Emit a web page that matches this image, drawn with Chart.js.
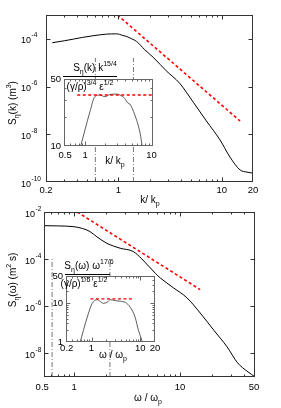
<!DOCTYPE html>
<html>
<head>
<meta charset="utf-8">
<script src="https://cdn.jsdelivr.net/npm/chart.js@4.4.1/dist/chart.umd.min.js"></script>
<style>
  html, body { margin: 0; padding: 0; background: #fff; }
  body { position: relative; width: 281px; height: 408px; overflow: hidden; font-family: "Liberation Sans", Arial, Helvetica, sans-serif; color: #000; }
  canvas { position: absolute; }
  .lbl { position: absolute; white-space: nowrap; font-size: 10px; line-height: 10px; transform: translate(-50%, -50%); }
  .rot { transform: translate(-50%, -50%) rotate(-90deg); }
  .lbl sub, .lbl sup { font-size: 7px; line-height: 0; position: relative; vertical-align: baseline; }
  .lbl sub { top: 3px; }
  .lbl sup { top: -5px; }
  .frac { position: absolute; height: 0; border-top: 1px solid #000; }
</style>
</head>
<body>
<canvas id="kMain" width="281" height="204" style="left:0;top:0"></canvas>
<canvas id="wMain" width="281" height="204" style="left:0;top:204px"></canvas>
<canvas id="kInset" width="125" height="100" style="left:40px;top:70px"></canvas>
<canvas id="wInset" width="125" height="100" style="left:40px;top:266px"></canvas>

<div class="lbl rot" style="left:13px;top:103px">S<sub>η</sub>(k) (m<sup>3</sup>)</div>
<div class="lbl" style="left:150px;top:200px">k/ k<sub>p</sub></div>
<div class="lbl" style="left:95px;top:68px">S<sub>η</sub>(k) k<sup>15/4</sup></div>
<div class="frac" style="left:63px;top:76px;width:54px"></div>
<div class="lbl" style="left:90px;top:87px">(γ/ρ)<sup>3/4</sup> ε<sup>1/2</sup></div>
<div class="lbl" style="left:115px;top:161px">k/ k<sub>p</sub></div>

<div class="lbl rot" style="left:13px;top:280px">S<sub>η</sub>(ω) (m<sup>2</sup> s)</div>
<div class="lbl" style="left:148px;top:398px">ω / ω<sub>p</sub></div>
<div class="lbl" style="left:89px;top:266px">S<sub>η</sub>(ω) ω<sup>17/6</sup></div>
<div class="frac" style="left:65px;top:274px;width:45px"></div>
<div class="lbl" style="left:84px;top:284px">(γ/ρ)<sup>1/6</sup> ε<sup>1/2</sup></div>
<div class="lbl" style="left:113px;top:355px">ω / ω<sub>p</sub></div>

<script>
// ---- top panel: wavenumber spectrum S(k) vs k/kp
const kAxis = [0.23, 0.3, 0.37, 0.45, 0.57, 0.77, 0.96, 1.1, 1.2, 1.35, 1.5, 1.8, 2.2, 2.9, 3.9, 5.3, 7.1, 9.6, 12, 15, 17.5, 20];
const specK = [6.9e-5, 8.3e-5, 9.8e-5, 1.15e-4, 1.35e-4, 1.58e-4, 1.62e-4, 1.4e-4, 1.26e-4, 1.0e-4, 7.8e-5, 3.5e-5, 1.6e-5, 4.6e-6, 1.4e-6, 2.2e-7, 3.6e-8, 5.8e-9, 1.1e-9, 3.2e-10, 2.6e-10, 2.35e-10];
const kFitX = [0.98, 15];          // k^-15/4 reference line
const kFitY = [1e-3, 3.6e-8];
const kMarks = [0.6, 1.4];         // dash-dot markers
const kMarkSpan = [1e-10, 1.6e-5];

// top inset: compensated spectrum
const kInset = [0.84, 1.0, 1.18, 1.4, 1.67, 1.98, 2.36, 3.0, 3.35, 3.95, 4.4, 4.7, 5.6, 6.7, 7.3];
const compK = [9.5, 15, 22.8, 32.8, 34, 32.7, 34.4, 34.8, 34, 31.3, 28, 27.4, 21, 13.7, 9.5];
const kLevelX = [0.76, 10.5];
const kLevelY = [34, 34];

// ---- bottom panel: frequency spectrum S(w) vs w/wp
const wAxis = [0.53, 0.7, 0.98, 1.2, 1.41, 1.64, 2.04, 2.73, 3.62, 4.36, 5.85, 6.5, 8.7, 11.6, 15.5, 20.7, 27.8, 34.9, 43.7, 51];
const specW = [2.63e-3, 2.57e-3, 2.4e-3, 2.0e-3, 1.48e-3, 8.9e-4, 4.7e-4, 2.9e-4, 2.1e-4, 1.02e-4, 2.5e-5, 1.6e-5, 6.0e-6, 2.3e-6, 5.2e-7, 1.0e-7, 1.9e-8, 4.0e-9, 1.66e-9, 1.02e-9];
const wFitX = [1.07, 15.5];        // w^-17/6 reference line
const wFitY = [1e-2, 5.1e-6];
const wMarks = [0.62, 2.18];
const wMarkSpan = [1e-9, 1e-4];

// bottom inset: compensated spectrum
const wInset = [0.58, 0.82, 1.03, 1.31, 1.52, 1.75, 2.08, 2.43, 3.08, 3.89, 4.9, 6.2, 7.8, 9.15, 10.7, 11.2];
const compW = [0.95, 4.4, 9.8, 12.3, 11.0, 9.9, 10.5, 12.3, 11.6, 11.2, 10.5, 7.9, 4.4, 2.0, 1.12, 0.9];
const wLevelX = [0.95, 7.25];
const wLevelY = [12.9, 12.9];

// ---- tick labels
const kTicks = [0.2, 1, 10, 20];
const kTickLabels = ['0.2', '1', '10', '20'];
const kPowers = [-4, -6, -8, -10];
const wTicks = [0.5, 1, 10, 50];
const wTickLabels = ['0.5', '1', '10', '50'];
const wPowers = [-2, -4, -6, -8];
const kInTicks = [0.5, 1, 10];
const kInTickLabels = ['0.5', '1', '10'];
const kInYTicks = [10, 50];
const kInYLabels = ['10', '50'];
const wInTicks = [0.31, 1, 10, 20];
const wInTickLabels = ['0.2', '1', '10', '20'];
const wInYTicks = [1, 10, 50];
const wInYLabels = ['1', '10', '50'];

const minorDec = [2, 3, 4, 5, 6, 7, 8, 9];
const minorSub = [0.3, 0.4, 0.5, 0.6, 0.7, 0.8, 0.9];

Chart.defaults.font.family = '"Liberation Sans", Arial, Helvetica, sans-serif';
Chart.defaults.color = '#000';

// box frame, inward ticks, white plot background and 10^n labels
const boxTicks = {
    id: 'boxTicks',
    beforeDatasetsDraw(chart, args, o) {
        if (!o.fill) return;
        const a = chart.chartArea, ctx = chart.ctx;
        ctx.save();
        ctx.fillStyle = o.fill;
        ctx.fillRect(a.left, a.top, a.right - a.left, a.bottom - a.top);
        ctx.restore();
    },
    afterDraw(chart, args, o) {
        const ctx = chart.ctx, a = chart.chartArea, sx = chart.scales.x, sy = chart.scales.y;
        const L = Math.round(a.left) + 0.5, R = Math.round(a.right) - 0.5;
        const T = Math.round(a.top) + 0.5, B = Math.round(a.bottom) - 0.5;
        ctx.save();
        ctx.strokeStyle = o.color;
        ctx.lineWidth = 1;
        ctx.strokeRect(L, T, R - L, B - T);
        ctx.beginPath();
        const xt = (vals, len) => vals.forEach(v => {
            const p = Math.round(sx.getPixelForValue(v)) + 0.5;
            if (p <= L + 1 || p >= R - 1) return;
            ctx.moveTo(p, B); ctx.lineTo(p, B - len);
            ctx.moveTo(p, T); ctx.lineTo(p, T + len);
        });
        const yt = (vals, len) => vals.forEach(v => {
            const p = Math.round(sy.getPixelForValue(v)) + 0.5;
            if (p <= T + 1 || p >= B - 1) return;
            ctx.moveTo(L, p); ctx.lineTo(L + len, p);
            ctx.moveTo(R, p); ctx.lineTo(R - len, p);
        });
        xt(o.xMajor || [], 4); xt(o.xMinor || [], 2);
        yt(o.yMajor || [], 4); yt(o.yMinor || [], 2);
        ctx.stroke();
        if (o.powers) {
            ctx.fillStyle = '#000';
            ctx.textBaseline = 'alphabetic';
            o.powers.forEach(e => {
                const p = sy.getPixelForValue(Math.pow(10, e));
                ctx.font = '9px "Liberation Sans", Arial, sans-serif';
                ctx.textAlign = 'right';
                ctx.fillText('10', o.baseRight, p + 4.5);
                ctx.font = '6.5px "Liberation Sans", Arial, sans-serif';
                ctx.textAlign = 'left';
                ctx.fillText('-' + Math.abs(e), o.baseRight + 0.5, p - 1.5);
            });
        }
        ctx.restore();
    }
};

function pts(xs, ys) {
    return xs.map((x, i) => ({ x: x, y: ys[i] }));
}

function makePlot(id, cfg) {
    return new Chart(document.getElementById(id), {
        type: 'line',
        data: { datasets: cfg.datasets },
        options: {
            responsive: false,
            devicePixelRatio: 1,
            animation: false,
            layout: { padding: cfg.padding },
            elements: { point: { radius: 0 } },
            plugins: {
                legend: { display: false },
                tooltip: { enabled: false },
                boxTicks: cfg.box
            },
            scales: {
                x: {
                    type: 'logarithmic', min: cfg.xMin, max: cfg.xMax,
                    grid: { display: false, drawTicks: false },
                    border: { display: false },
                    afterBuildTicks: s => { s.ticks = cfg.xTicks.map(v => ({ value: v })); },
                    ticks: {
                        callback: (v, i) => cfg.xLabels[i],
                        font: { size: 9.5 }, padding: cfg.xPad,
                        maxRotation: 0, autoSkip: false
                    },
                    afterFit: s => { s.height = cfg.xHeight; }
                },
                y: {
                    type: 'logarithmic', min: cfg.yMin, max: cfg.yMax,
                    grid: { display: false, drawTicks: false },
                    border: { display: false },
                    afterBuildTicks: s => { s.ticks = (cfg.yTicks || []).map(v => ({ value: v })); },
                    ticks: {
                        display: !!cfg.yLabels,
                        callback: (v, i) => cfg.yLabels ? cfg.yLabels[i] : '',
                        font: { size: 9.5 }, padding: 3, autoSkip: false
                    },
                    afterFit: s => { s.width = cfg.yWidth; }
                }
            }
        },
        plugins: [boxTicks]
    });
}

const curve = (xs, ys) => ({ data: pts(xs, ys), borderColor: '#000', borderWidth: 1, cubicInterpolationMode: 'monotone', fill: false });
const fitLine = (xs, ys, w) => ({ data: pts(xs, ys), borderColor: '#ff0000', borderWidth: w, borderDash: [3, 2.5], fill: false });
const mark = (x, span) => ({ data: pts([x, x], span), borderColor: '#555', borderWidth: 0.8, borderDash: [5, 2, 1, 2], fill: false });

makePlot('kMain', {
    padding: { top: 15, right: 28, left: 0, bottom: 0 },
    xMin: 0.2, xMax: 20, yMin: 1e-10, yMax: 1e-3,
    xTicks: kTicks, xLabels: kTickLabels, xPad: 3, xHeight: 22, yWidth: 46,
    datasets: [
        mark(kMarks[0], kMarkSpan), mark(kMarks[1], kMarkSpan),
        fitLine(kFitX, kFitY, 1.6),
        curve(kAxis, specK)
    ],
    box: { color: '#333', xMajor: [1, 10], xMinor: minorSub.concat(minorDec),
           yMajor: [1e-4, 1e-6, 1e-8], powers: kPowers, baseRight: 31 }
});

makePlot('wMain', {
    padding: { top: 8, right: 26, left: 0, bottom: 0 },
    xMin: 0.52, xMax: 51, yMin: 1e-9, yMax: 1e-2,
    xTicks: wTicks, xLabels: wTickLabels, xPad: 5, xHeight: 31, yWidth: 44,
    datasets: [
        mark(wMarks[0], wMarkSpan), mark(wMarks[1], wMarkSpan),
        fitLine(wFitX, wFitY, 1.6),
        curve(wAxis, specW)
    ],
    box: { color: '#333', xMajor: [1, 10], xMinor: [0.6, 0.7, 0.8, 0.9].concat(minorDec, [20, 30, 40]),
           yMajor: [1e-4, 1e-6, 1e-8], powers: wPowers, baseRight: 35 }
});

makePlot('kInset', {
    padding: { top: 9, right: 12, left: 0, bottom: 0 },
    xMin: 0.48, xMax: 10.5, yMin: 10, yMax: 50,
    xTicks: kInTicks, xLabels: kInTickLabels, xPad: 4, xHeight: 24, yWidth: 24,
    yTicks: kInYTicks, yLabels: kInYLabels,
    datasets: [
        fitLine(kLevelX, kLevelY, 1.4),
        Object.assign(curve(kInset, compK), { borderColor: '#333', borderWidth: 0.8 })
    ],
    box: { color: '#666', fill: '#fff', xMajor: [1], xMinor: [0.6, 0.7, 0.8, 0.9].concat(minorDec),
           yMinor: [20, 30, 40] }
});

makePlot('wInset', {
    padding: { top: 10, right: 10, left: 0, bottom: 0 },
    xMin: 0.31, xMax: 20, yMin: 1, yMax: 50,
    xTicks: wInTicks, xLabels: wInTickLabels, xPad: 1, xHeight: 24, yWidth: 26,
    yTicks: wInYTicks, yLabels: wInYLabels,
    datasets: [
        fitLine(wLevelX, wLevelY, 1.4),
        Object.assign(curve(wInset, compW), { borderColor: '#333', borderWidth: 0.8 })
    ],
    box: { color: '#666', fill: '#fff', xMajor: [1, 10], xMinor: [0.4, 0.5, 0.6, 0.7, 0.8, 0.9].concat(minorDec),
           yMajor: [10], yMinor: minorDec.concat([20, 30, 40]) }
});
</script>
</body>
</html>
